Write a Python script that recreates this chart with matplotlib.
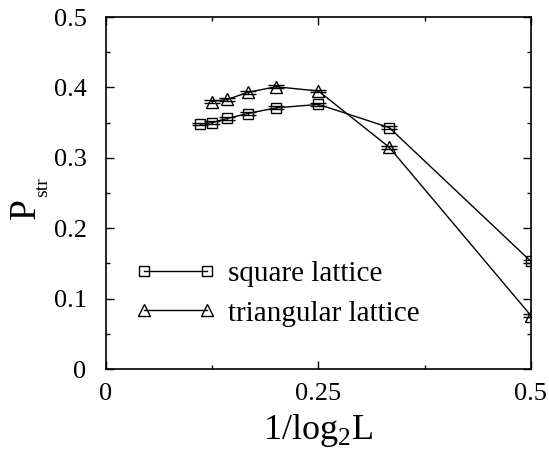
import matplotlib.pyplot as plt
import numpy as np

# 1/log2(L) and P_str values
x_sq = [1/9, 1/8, 1/7, 1/6, 1/5, 1/4, 1/3, 1/2]
p_sq = [0.348, 0.350, 0.356, 0.363, 0.371, 0.376, 0.343, 0.153]
err_sq = [0.002, 0.002, 0.002, 0.002, 0.002, 0.002, 0.002, 0.002]

x_tri = [1/8, 1/7, 1/6, 1/5, 1/4, 1/3, 1/2]
p_tri = [0.380, 0.383, 0.393, 0.401, 0.395, 0.315, 0.076]
err_tri = [0.002, 0.002, 0.002, 0.002, 0.002, 0.002, 0.002]

plt.rcParams['font.family'] = ['Liberation Serif', 'DejaVu Serif']
plt.rcParams['mathtext.fontset'] = 'custom'
plt.rcParams['mathtext.rm'] = 'Liberation Serif'

W, H = 549, 449
fig = plt.figure(figsize=(W / 100, H / 100), dpi=100)
ax = fig.add_axes([0.193, 0.178, 0.774, 0.784])

ax.errorbar(x_sq, p_sq, yerr=err_sq, color='black', lw=1, marker='s', ms=7,
            mfc='none', mec='black', mew=1, capsize=6, elinewidth=1,
            label='square lattice')
ax.errorbar(x_tri, p_tri, yerr=err_tri, color='black', lw=1, marker='^', ms=8,
            mfc='none', mec='black', mew=1, capsize=6, elinewidth=1,
            label='triangular lattice')

ax.set_xlim(0, 0.5)
ax.set_ylim(0, 0.5)
ax.set_xticks([0, 0.25, 0.5])
ax.set_xticklabels(['0', '0.25', '0.5'])
ax.set_xticks([0.125, 0.375], minor=True)
ax.set_yticks([0, 0.1, 0.2, 0.3, 0.4, 0.5])
ax.set_yticklabels(['0', '0.1', '0.2', '0.3', '0.4', '0.5'])
ax.set_yticks(np.arange(0.05, 0.5, 0.1), minor=True)
ax.tick_params(which='both', direction='in', top=True, right=True, labelsize=19, width=1)
ax.tick_params(which='major', length=6)
ax.tick_params(axis='x', which='major', pad=10)
ax.tick_params(axis='y', which='major', pad=14)
ax.tick_params(which='minor', length=3)
for s in ax.spines.values():
    s.set_linewidth(1.2)

ax.set_xlabel(r'1/log$_{2}$L', fontsize=26, labelpad=5)

# y label: big P with a small, low "str" subscript
fig.text(43 / W, 1 - 209 / H, 'P', rotation=90, fontsize=27, ha='right', va='center')
fig.text(51 / W, 1 - 187.5 / H, 'str', rotation=90, fontsize=14, ha='right', va='center')

handles, labels = ax.get_legend_handles_labels()
handles = [h[0] for h in handles]
ax.legend(handles, labels, loc='lower left', bbox_to_anchor=(0.007, 0.046),
          frameon=False, fontsize=21, numpoints=2, handlelength=2.76,
          handletextpad=0.41, labelspacing=0.45)

fig.savefig('out.png', dpi=100)
